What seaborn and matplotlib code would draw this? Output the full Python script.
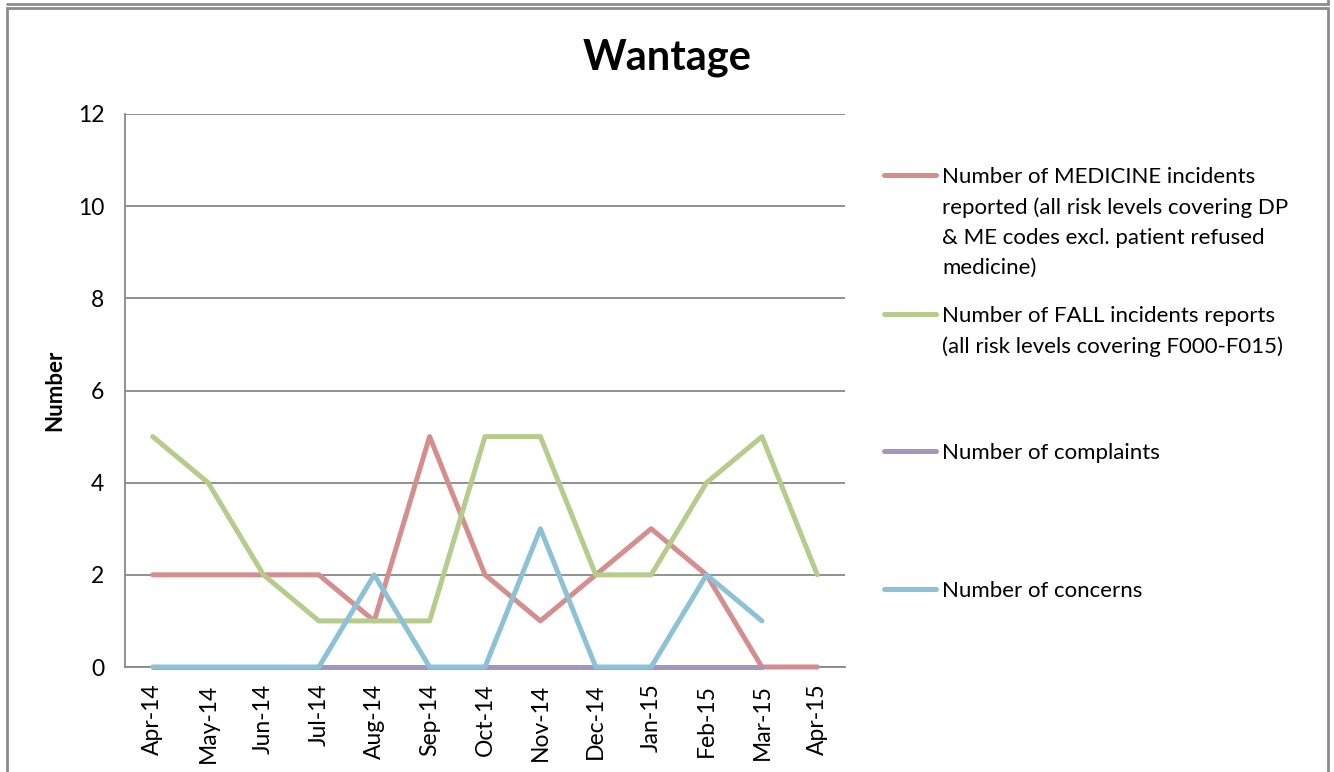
import pandas as pd
import seaborn as sns
import matplotlib.pyplot as plt
from matplotlib.lines import Line2D
from matplotlib.patches import Rectangle

# data
months = ["Apr-14", "May-14", "Jun-14", "Jul-14", "Aug-14", "Sep-14", "Oct-14",
          "Nov-14", "Dec-14", "Jan-15", "Feb-15", "Mar-15", "Apr-15"]
medicine = [2, 2, 2, 2, 1, 5, 2, 1, 2, 3, 2, 0, 0]
falls = [5, 4, 2, 1, 1, 1, 5, 5, 2, 2, 4, 5, 2]
complaints = [0, 0, 0, 0, 0, 0, 0, 0, 0, 0, 0, 0, None]
concerns = [0, 0, 0, 0, 2, 0, 0, 3, 0, 0, 2, 1, None]

series_names = [
    "Number of MEDICINE incidents\nreported (all risk levels covering DP\n& ME codes excl. patient refused\nmedicine)",
    "Number of FALL incidents reports\n(all risk levels covering F000-F015)",
    "Number of complaints",
    "Number of concerns",
]
colors = ["#D48E8E", "#B6CC8C", "#A596BE", "#8DC2D6"]

frames = []
for name, vals in zip(series_names, [medicine, falls, complaints, concerns]):
    frames.append(pd.DataFrame({"idx": range(len(months)), "value": vals, "series": name}))
df = pd.concat(frames, ignore_index=True).dropna()

sns.set_style("white")
plt.rcParams["font.family"] = ["Lato", "DejaVu Sans"]
plt.rcParams["text.color"] = "black"
plt.rcParams["xtick.color"] = "black"
plt.rcParams["ytick.color"] = "black"
plt.rcParams["axes.labelcolor"] = "black"

fig = plt.figure(figsize=(13.34, 7.72), dpi=100)
ax = fig.add_axes([125 / 1334, 1 - 667 / 772, 720 / 1334, 553 / 772])

sns.lineplot(data=df, x="idx", y="value", hue="series", palette=colors,
             hue_order=series_names, linewidth=3.6, legend=False, ax=ax)
for ln in ax.lines:
    ln.set_solid_capstyle("round")
    ln.set_solid_joinstyle("round")
    ln.set_clip_on(False)
    ln.set_zorder(5)

ax.set_xlim(-0.5, len(months) - 0.5)
ax.set_ylim(0, 12)
ax.set_yticks(range(0, 13, 2))
ax.set_xticks(range(len(months)))
ax.set_xticklabels(months, rotation=90, fontsize=16.5)
ax.tick_params(axis="y", labelsize=16.5, pad=15, length=0)
ax.tick_params(axis="x", pad=12, length=0)
ax.yaxis.grid(True, color="#888888", linewidth=1.3)
ax.set_axisbelow(True)
for side in ["top", "right"]:
    ax.spines[side].set_visible(False)
for side in ["left", "bottom"]:
    ax.spines[side].set_color("#888888")
    ax.spines[side].set_linewidth(1.3)
ax.set_xlabel("")
ax.set_ylabel("Number", fontsize=16, fontweight="bold", labelpad=9)

fig.text(667 / 1334, 1 - 58 / 772, "Wantage", ha="center", va="center",
         fontsize=30, fontweight="bold")

# legend laid out like the original (handle beside the first text line)
legend_rows = [175, 314, 451, 589]
for name, col, yrow in zip(series_names, colors, legend_rows):
    yf = 1 - yrow / 772
    fig.add_artist(Line2D([884 / 1334, 936 / 1334], [yf, yf], color=col, linewidth=3.6,
                          solid_capstyle="round", transform=fig.transFigure))
    fig.text(942 / 1334, 1 - (yrow - 8) / 772, name, ha="left", va="top",
             fontsize=16, linespacing=1.62, transform=fig.transFigure)

# outer grey frame
fig.add_artist(Rectangle((7 / 1334, -0.05), 1321 / 1334, 1 - 8 / 772 + 0.05,
                         fill=False, edgecolor="#8c8c8c", linewidth=2,
                         transform=fig.transFigure))
fig.add_artist(Line2D([7 / 1334, 1328 / 1334], [1 - 4 / 772, 1 - 4 / 772],
                      color="#8c8c8c", linewidth=2, transform=fig.transFigure))
fig.add_artist(Line2D([1328 / 1334, 1328 / 1334], [1 - 4 / 772, 1.0],
                      color="#8c8c8c", linewidth=2, transform=fig.transFigure))

fig.savefig("out.png", dpi=100)
